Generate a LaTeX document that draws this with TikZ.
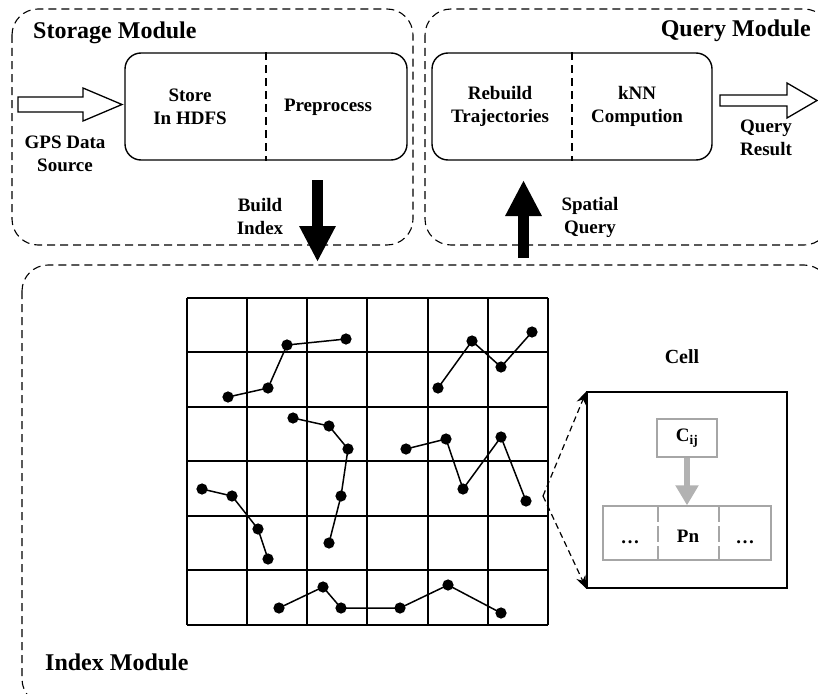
\documentclass[tikz,border=0pt]{standalone}
\usepackage{fontspec}
\setmainfont{Liberation Serif}
\usetikzlibrary{arrows.meta}

\tikzset{
  modbox/.style={draw, dash pattern=on 8pt off 5pt, rounded corners=26pt, line width=1.1pt},
  procbox/.style={draw, rounded corners=16pt, line width=1.4pt},
  modtitle/.style={font=\fontsize{24}{28}\selectfont\bfseries, inner sep=0pt},
  lbl/.style={align=center, font=\fontsize{19}{23}\selectfont\bfseries, inner sep=0pt},
  trail/.style={line width=1.5pt, mark=*, mark size=4.8pt},
  fatarrow/.style={line width=11pt, -{Triangle[width=34pt,length=36pt]}},
  zoomline/.style={dash pattern=on 6pt off 4pt, line width=1.2pt, -{Stealth[length=13pt,width=10pt]}},
}

\begin{document}
\begin{tikzpicture}[x=1pt,y=-1pt]
\clip (0,0) rectangle (818,693);

% modules
\draw[modbox] (12,9) rectangle (413,245);
\draw[modbox] (425,9) rectangle (830,245);
\draw[modbox] (22,265) rectangle (830,705);
\node[modtitle, anchor=west] (storage) at (33,33) {Storage Module};
\node[modtitle, anchor=east] (query) at (811,31) {Query Module};
\node[modtitle, anchor=west] (index) at (45,662) {Index Module};

% storage module
\node[procbox, minimum width=282, minimum height=107] (storebox) at (266,106.5) {};
\draw[dash pattern=on 8pt off 5pt, line width=1.2pt] (storebox.north) -- (storebox.south);
\node[lbl] (store) at (190,107) {Store\\In HDFS};
\node[lbl] (prep) at (328,107) {Preprocess};
\draw[line width=1.3pt] (18,97) -- (83,97) -- (83,88) -- (122,104.5) -- (83,121) -- (83,112) -- (18,112) -- cycle;
\node[lbl] (gps) at (65,154) {GPS Data\\Source};

% query module
\node[procbox, minimum width=280, minimum height=107] (querybox) at (572,106.5) {};
\draw[dash pattern=on 8pt off 5pt, line width=1.2pt] (querybox.north) -- (querybox.south);
\node[lbl] (rebuild) at (500,106) {Rebuild\\Trajectories};
\node[lbl] (knn) at (637,106) {kNN\\Compution};
\draw[line width=1.3pt] (720,95) -- (787,95) -- (787,83) -- (817,100.5) -- (787,118) -- (787,106) -- (720,106) -- cycle;
\node[lbl] (result) at (766,138) {Query\\Result};

% links between modules
\coordinate (bi-s) at (317.5,180);
\coordinate (bi-e) at (317.5,262);
\coordinate (sq-s) at (523.5,258);
\coordinate (sq-e) at (523.5,180);
\draw[fatarrow] (bi-s) -- (bi-e);
\draw[fatarrow] (sq-s) -- (sq-e);
\node[lbl] (build) at (260,216) {Build\\Index};
\node[lbl] (spatial) at (590,217) {Spatial\\Query};

% grid
\foreach \gx in {187,247,307,367,428,488,548}
  \draw[line width=1.8pt] (\gx,298) -- (\gx,625);
\foreach \gy in {298,352,407,461,516,570,625}
  \draw[line width=1.8pt] (187,\gy) -- (548,\gy);

% trajectories
\draw[trail] plot coordinates {(228,397) (268,388) (287,345) (346,339)};
\draw[trail] plot coordinates {(438,388) (472,341) (501,367) (532,332)};
\draw[trail] plot coordinates {(293,418) (329,426) (348,449) (341,496) (329,543)};
\draw[trail] plot coordinates {(406,449) (446,439) (463,489) (501,437) (526,501)};
\draw[trail] plot coordinates {(202,489) (232,496) (258,529) (268,559)};
\draw[trail] plot coordinates {(279,608) (323,587) (341,608) (400,608) (448,585) (501,613)};

% cell detail
\node[lbl, font=\fontsize{20}{24}\selectfont\bfseries] (celltitle) at (682,357) {Cell};
\node[draw, line width=1.3pt, minimum width=200, minimum height=196] (cell) at (687,490) {};
\coordinate (zoom) at (543,496);
\draw[zoomline] (zoom) -- (cell.north west);
\draw[zoomline] (zoom) -- (cell.south west);
\node[draw=gray!70, line width=1.3pt, minimum width=60, minimum height=38, lbl] (cij) at (687,438) {C\textsubscript{ij}};
\node[draw=gray!70, line width=1.3pt, minimum width=168, minimum height=54] (row) at (687,533) {};
\draw[gray!70, line width=1.1pt, dash pattern=on 16pt off 4pt] (658,506) -- (658,560);
\draw[gray!70, line width=1.1pt, dash pattern=on 16pt off 4pt] (719,506) -- (719,560);
\draw[gray!60, line width=6pt, -{Triangle[width=22pt,length=20pt]}] (cij.south) -- (row.north);
\node[lbl, anchor=base] (dl) at (630,543) {\dots};
\node[lbl, anchor=base] (pn) at (688,542) {Pn};
\node[lbl, anchor=base] (dr) at (745,543) {\dots};
\end{tikzpicture}
\end{document}
